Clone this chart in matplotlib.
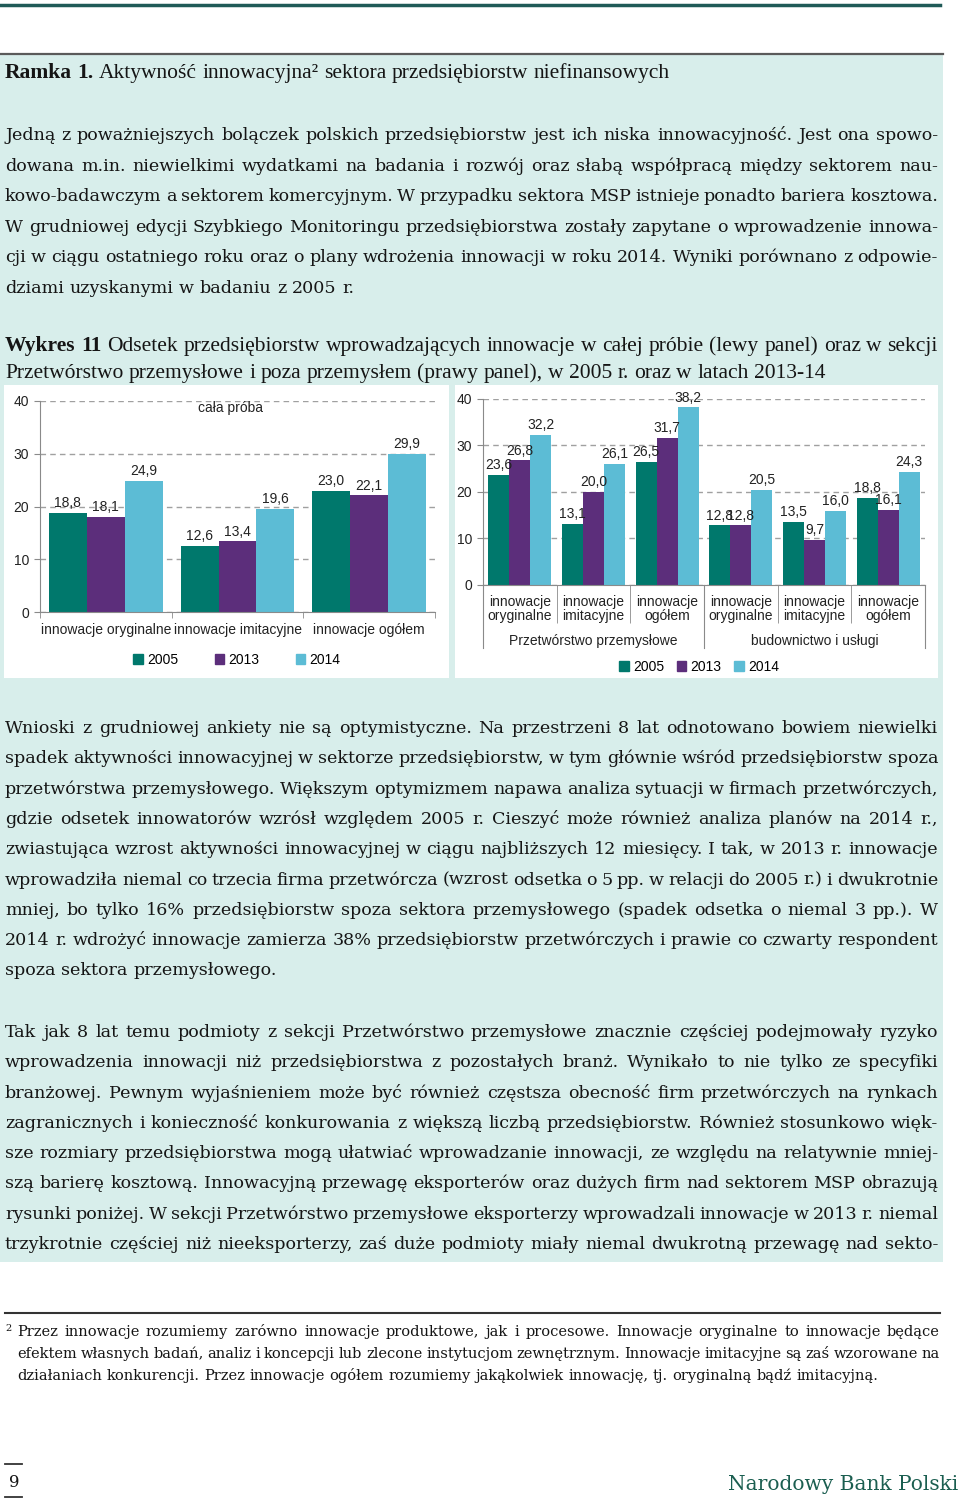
import numpy as np
import matplotlib
matplotlib.use('Agg')
import matplotlib.pyplot as plt
from matplotlib.patches import Rectangle, Patch

W, H = 960, 1499
SANS = 'Liberation Sans'
SERIF = 'DejaVu Serif'
NARROW = 'Liberation Serif'

# --- chart data ---
years = ['2005', '2013', '2014']
colors = ['#00786c', '#5c2e7b', '#5cbcd5']

left_cats = ['innowacje oryginalne', 'innowacje imitacyjne', 'innowacje ogółem']
left_2005 = [18.8, 12.6, 23.0]
left_2013 = [18.1, 13.4, 22.1]
left_2014 = [24.9, 19.6, 29.9]

right_cats = ['innowacje\noryginalne', 'innowacje\nimitacyjne', 'innowacje\nogółem'] * 2
right_groups = ['Przetwórstwo przemysłowe', 'budownictwo i usługi']
right_2005 = [23.6, 13.1, 26.5, 12.8, 13.5, 18.8]
right_2013 = [26.8, 20.0, 31.7, 12.8, 9.7, 16.1]
right_2014 = [32.2, 26.1, 38.2, 20.5, 16.0, 24.3]

# --- page text ---
title = 'Ramka 1. Aktywność innowacyjna² sektora przedsiębiorstw niefinansowych'
para1 = [
    'Jedną z poważniejszych bolączek polskich przedsiębiorstw jest ich niska innowacyjność. Jest ona spowo-',
    'dowana m.in. niewielkimi wydatkami na badania i rozwój oraz słabą współpracą między sektorem nau-',
    'kowo-badawczym a sektorem komercyjnym. W przypadku sektora MSP istnieje ponadto bariera kosztowa.',
    'W grudniowej edycji Szybkiego Monitoringu przedsiębiorstwa zostały zapytane o wprowadzenie innowa-',
    'cji w ciągu ostatniego roku oraz o plany wdrożenia innowacji w roku 2014. Wyniki porównano z odpowie-',
    'dziami uzyskanymi w badaniu z 2005 r.',
]
caption = [
    'Wykres 11 Odsetek przedsiębiorstw wprowadzających innowacje w całej próbie (lewy panel) oraz w sekcji',
    'Przetwórstwo przemysłowe i poza przemysłem (prawy panel), w 2005 r. oraz w latach 2013-14',
]
para2 = [
    'Wnioski z grudniowej ankiety nie są optymistyczne. Na przestrzeni 8 lat odnotowano bowiem niewielki',
    'spadek aktywności innowacyjnej w sektorze przedsiębiorstw, w tym głównie wśród przedsiębiorstw spoza',
    'przetwórstwa przemysłowego. Większym optymizmem napawa analiza sytuacji w firmach przetwórczych,',
    'gdzie odsetek innowatorów wzrósł względem 2005 r. Cieszyć może również analiza planów na 2014 r.,',
    'zwiastująca wzrost aktywności innowacyjnej w ciągu najbliższych 12 miesięcy. I tak, w 2013 r. innowacje',
    'wprowadziła niemal co trzecia firma przetwórcza (wzrost odsetka o 5 pp. w relacji do 2005 r.) i dwukrotnie',
    'mniej, bo tylko 16% przedsiębiorstw spoza sektora przemysłowego (spadek odsetka o niemal 3 pp.). W',
    '2014 r. wdrożyć innowacje zamierza 38% przedsiębiorstw przetwórczych i prawie co czwarty respondent',
    'spoza sektora przemysłowego.',
]
para3 = [
    'Tak jak 8 lat temu podmioty z sekcji Przetwórstwo przemysłowe znacznie częściej podejmowały ryzyko',
    'wprowadzenia innowacji niż przedsiębiorstwa z pozostałych branż. Wynikało to nie tylko ze specyfiki',
    'branżowej. Pewnym wyjaśnieniem może być również częstsza obecność firm przetwórczych na rynkach',
    'zagranicznych i konieczność konkurowania z większą liczbą przedsiębiorstw. Również stosunkowo więk-',
    'sze rozmiary przedsiębiorstwa mogą ułatwiać wprowadzanie innowacji, ze względu na relatywnie mniej-',
    'szą barierę kosztową. Innowacyjną przewagę eksporterów oraz dużych firm nad sektorem MSP obrazują',
    'rysunki poniżej. W sekcji Przetwórstwo przemysłowe eksporterzy wprowadzali innowacje w 2013 r. niemal',
    'trzykrotnie częściej niż nieeksporterzy, zaś duże podmioty miały niemal dwukrotną przewagę nad sekto-',
]
footnote = [
    'Przez innowacje rozumiemy zarówno innowacje produktowe, jak i procesowe. Innowacje oryginalne to innowacje będące',
    'efektem własnych badań, analiz i koncepcji lub zlecone instytucjom zewnętrznym. Innowacje imitacyjne są zaś wzorowane na',
    'działaniach konkurencji. Przez innowacje ogółem rozumiemy jakąkolwiek innowację, tj. oryginalną bądź imitacyjną.',
]

fig = plt.figure(figsize=(9.6, 14.99), dpi=100)
fig.patch.set_facecolor('white')
page = fig.add_axes([0, 0, 1, 1])
page.set_xlim(0, W)
page.set_ylim(H, 0)
page.axis('off')
renderer = fig.canvas.get_renderer()


def rect(x0, y0, x1, y1):
    return [x0 / W, 1 - y1 / H, (x1 - x0) / W, (y1 - y0) / H]


def put_line(y, text, x0, x1, size, family, justify=True, bold=0, color='#151515'):
    words = text.split(' ')
    objs = [page.text(x0, y, w, fontsize=size, family=family, va='baseline', ha='left',
                      color=color, weight='bold' if i < bold else 'normal')
            for i, w in enumerate(words)]
    widths = [t.get_window_extent(renderer).width for t in objs]
    if justify and len(words) > 1:
        gap = (x1 - x0 - sum(widths)) / (len(words) - 1)
    else:
        probe = page.text(0, 0, 'a a', fontsize=size, family=family)
        probe2 = page.text(0, 0, 'aa', fontsize=size, family=family)
        gap = probe.get_window_extent(renderer).width - probe2.get_window_extent(renderer).width
        probe.remove()
        probe2.remove()
    x = x0
    for t, w in zip(objs, widths):
        t.set_x(x)
        x += w + gap


def paragraph(lines, y0, step, x0=5, x1=938, size=12.6, family=SERIF, last_just=False):
    for i, ln in enumerate(lines):
        put_line(y0 + i * step, ln, x0, x1, size, family,
                 justify=(i < len(lines) - 1) or last_just)


# page decorations
page.plot([0, 940], [5, 5], color='#1f5a57', lw=2.5)
page.add_patch(Rectangle((0, 54), 943, 1208, facecolor='#d8eeeb', edgecolor='none'))
page.plot([0, 943], [54, 54], color='#5a5a5a', lw=1.6)
page.add_patch(Rectangle((4, 385), 445, 293, facecolor='white', edgecolor='none'))
page.add_patch(Rectangle((455, 385), 483, 293, facecolor='white', edgecolor='none'))

put_line(78, title, 5, 940, 15.5, NARROW, justify=False, bold=2)
paragraph(para1, 140, 30.5)
put_line(351, caption[0], 5, 938, 15.5, NARROW, bold=2)
put_line(378, caption[1], 5, 938, 15.5, NARROW, justify=False)
paragraph(para2, 733, 30.3)
# last line of para3 is cut mid-word, so it stays justified
paragraph(para3, 1037, 30.3, last_just=True)

page.plot([5, 940], [1313, 1313], color='#333333', lw=1.5)
page.text(5, 1331, '2', fontsize=7, family=SERIF, color='#151515', va='baseline')
put_line(1336, footnote[0], 17, 940, 10.5, SERIF)
put_line(1358, footnote[1], 17, 940, 10.5, SERIF)
put_line(1380, footnote[2], 17, 940, 10.5, SERIF, justify=False)

page.plot([5, 22], [1464, 1464], color='#333333', lw=1.3)
page.plot([5, 22], [1497, 1497], color='#333333', lw=1.3)
page.text(9, 1487, '9', fontsize=12, family=SERIF, color='#151515', va='baseline')
page.text(958, 1490, 'Narodowy Bank Polski', fontsize=14.5, family=SERIF, color='#1b5e50',
          va='baseline', ha='right')


def fmt(vals):
    return [f'{v:.1f}'.replace('.', ',') for v in vals]


def draw_bars(ax, series, n, width):
    x = np.arange(n)
    for k, vals in enumerate(series):
        b = ax.bar(x + (k - 1) * width, vals, width, color=colors[k], zorder=2)
        ax.bar_label(b, labels=fmt(vals), padding=2, fontsize=10, family=SANS, color='#222222')
    ax.set_xlim(-0.5, n - 0.5)
    ax.set_ylim(0, 40)
    ax.set_yticks([0, 10, 20, 30, 40])
    ax.yaxis.grid(True, linestyle=(0, (4, 3)), color='#a0a0a0', lw=1)
    ax.set_axisbelow(True)
    ax.set_facecolor('none')
    for s in ['top', 'right']:
        ax.spines[s].set_visible(False)
    for s in ['left', 'bottom']:
        ax.spines[s].set_color('#8a8a8a')
    ax.tick_params(axis='y', length=4, color='#8a8a8a', labelsize=10, pad=4, labelcolor='#222222')
    ax.set_xticks(x)
    ax.tick_params(axis='x', which='major', length=0, labelsize=10, labelcolor='#222222')
    for lab in ax.get_xticklabels() + ax.get_yticklabels():
        lab.set_family(SANS)


# left panel
axl = fig.add_axes(rect(40, 401, 435, 612))
draw_bars(axl, [left_2005, left_2013, left_2014], 3, 0.288)
axl.set_xticklabels(left_cats)
axl.tick_params(axis='x', which='major', pad=8)
axl.set_xticks(np.arange(-0.5, 3.0, 1), minor=True)
axl.tick_params(axis='x', which='minor', length=4, color='#8a8a8a')
axl.text((230 - 40) / 395, (612 - 408) / 211, 'cała próba', transform=axl.transAxes,
         ha='center', va='center', fontsize=10, family=SANS, color='#222222')
fig.legend([Patch(color=c) for c in colors], years, loc='center',
           bbox_to_anchor=(237 / W, 1 - 660 / H), ncol=3, frameon=False,
           handlelength=0.7, handleheight=0.7, handletextpad=0.3, columnspacing=2.6,
           prop={'family': SANS, 'size': 10})

# right panel
axr = fig.add_axes(rect(483, 399, 925, 585))
draw_bars(axr, [right_2005, right_2013, right_2014], 6, 0.285)
axr.set_xticklabels(right_cats, linespacing=1.05)
axr.tick_params(axis='x', which='major', pad=7)
axr.set_xticks([0.5, 1.5, 3.5, 4.5], minor=True)
axr.tick_params(axis='x', which='minor', length=27, color='#8a8a8a')
hgt = 585 - 399
tr = axr.get_xaxis_transform()
for xb in [-0.5, 2.5, 5.5]:
    axr.plot([xb, xb], [0, -63 / hgt], transform=tr, clip_on=False, color='#8a8a8a', lw=0.8)
for xc, name in zip([1.0, 4.0], right_groups):
    axr.text(xc, -(641 - 585) / hgt, name, transform=tr, ha='center', va='center',
             fontsize=10, family=SANS, color='#222222')
fig.legend([Patch(color=c) for c in colors], years, loc='center',
           bbox_to_anchor=(699 / W, 1 - 667 / H), ncol=3, frameon=False,
           handlelength=0.7, handleheight=0.7, handletextpad=0.3, columnspacing=0.9,
           prop={'family': SANS, 'size': 10})

fig.savefig('out.png', dpi=100)
